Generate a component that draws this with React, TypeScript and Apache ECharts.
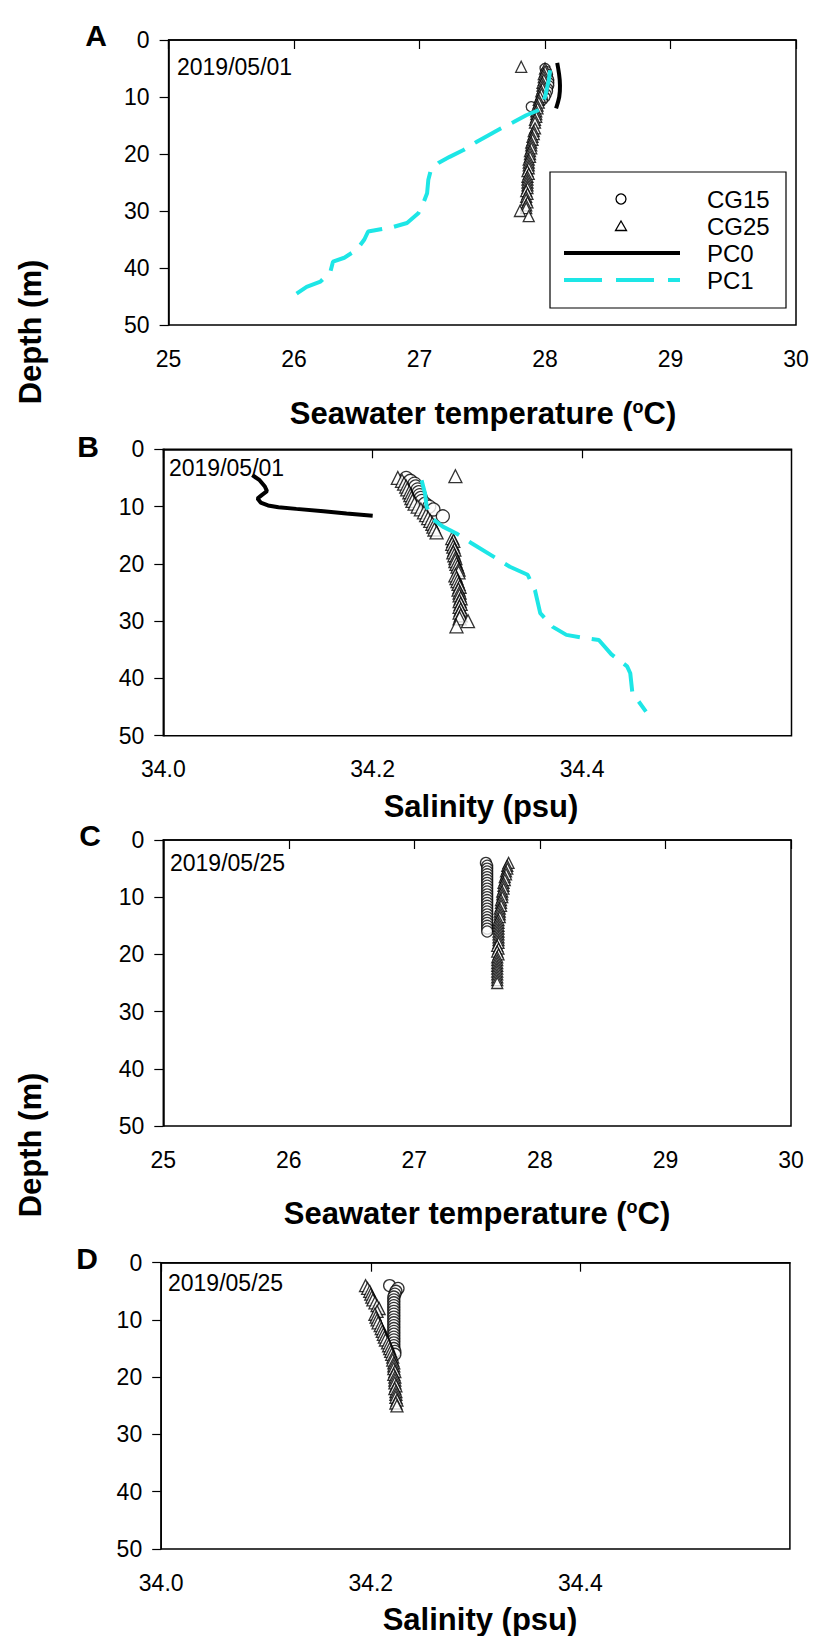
import React, { useEffect, useRef } from "react";
import * as echarts from "echarts";

// ---------- DATA ----------
// 2019/05/01 — CG15 (circles)
const cg15Depth0501 = [5.0, 5.5, 6.0, 6.5, 7.0, 7.5, 8.0, 8.5, 9.0, 9.5, 10.0, 10.5, 11.7];
const cg15Temp0501 = [28.00, 28.01, 28.02, 28.02, 28.03, 28.03, 28.03, 28.02, 28.02, 28.01, 28.00, 27.98, 27.89];
const cg15Sal0501 = [34.232, 34.236, 34.240, 34.241, 34.243, 34.244, 34.245, 34.246, 34.247, 34.250, 34.254, 34.258, 34.267];

// 2019/05/01 — CG25 (triangles)
const cg25Depth0501 = [4.7, 5.0, 5.5, 6.0, 6.5, 7.0, 7.5, 8.0, 8.5, 9.0, 9.5, 10.0, 10.5, 11.0, 11.5, 12.0, 12.5, 13.0, 13.5, 14.0, 14.5, 15.5, 16.0, 16.5, 17.0, 17.5, 18.0, 18.5, 19.0, 19.5, 20.0, 20.5, 21.0, 21.5, 22.0, 22.5, 23.0, 23.5, 24.0, 24.5, 25.0, 25.5, 26.0, 26.5, 27.0, 27.5, 28.0, 28.5, 29.0, 29.5, 30.0, 30.9];
const cg25Temp0501 = [27.81, 28.00, 28.00, 27.99, 27.99, 27.99, 27.98, 27.98, 27.98, 27.97, 27.97, 27.96, 27.95, 27.95, 27.94, 27.94, 27.93, 27.93, 27.93, 27.92, 27.92, 27.92, 27.91, 27.91, 27.90, 27.90, 27.89, 27.89, 27.89, 27.88, 27.88, 27.88, 27.87, 27.87, 27.87, 27.87, 27.86, 27.87, 27.86, 27.86, 27.86, 27.86, 27.86, 27.85, 27.86, 27.85, 27.85, 27.86, 27.85, 27.85, 27.80, 27.87];
const cg25Sal0501 = [34.279, 34.224, 34.228, 34.230, 34.232, 34.233, 34.235, 34.236, 34.237, 34.238, 34.240, 34.243, 34.246, 34.249, 34.251, 34.253, 34.255, 34.257, 34.258, 34.259, 34.261, 34.276, 34.277, 34.276, 34.277, 34.278, 34.277, 34.278, 34.279, 34.279, 34.280, 34.281, 34.282, 34.282, 34.279, 34.280, 34.281, 34.282, 34.283, 34.282, 34.283, 34.283, 34.284, 34.283, 34.284, 34.283, 34.284, 34.283, 34.284, 34.283, 34.291, 34.280];

// 2019/05/01 — PC0 (solid black line)
const pc0DepthT0501 = [4.0, 5.0, 6.0, 7.0, 8.0, 9.0, 10.0, 11.0, 12.0];
const pc0Temp0501 = [28.097, 28.105, 28.112, 28.117, 28.119, 28.118, 28.113, 28.102, 28.088];
const pc0DepthS0501 = [4.5, 5.4, 6.5, 7.3, 8.0, 8.6, 9.3, 9.8, 10.1, 10.4, 10.8, 11.2, 11.6];
const pc0Sal0501 = [34.085, 34.092, 34.097, 34.099, 34.094, 34.090, 34.093, 34.100, 34.110, 34.127, 34.153, 34.175, 34.200];

// 2019/05/01 — PC1 (dashed cyan line)
const pc1DepthT0501 = [5.3, 7.0, 9.0, 10.0, 12.2, 13.2, 14.4, 15.5, 16.7, 17.8, 19.3, 20.5, 21.6, 22.8, 24.5, 26.9, 28.6, 30.4, 32.1, 32.8, 33.2, 33.6, 35.0, 36.8, 38.2, 38.9, 40.6, 42.4, 43.3, 44.5];
const pc1Temp0501 = [28.04, 28.03, 28.01, 28.00, 27.96, 27.85, 27.75, 27.65, 27.55, 27.46, 27.35, 27.24, 27.15, 27.09, 27.07, 27.06, 27.03, 26.99, 26.90, 26.79, 26.69, 26.59, 26.56, 26.50, 26.40, 26.31, 26.29, 26.21, 26.10, 26.02];
const pc1DepthS0501 = [5.4, 7.7, 10.0, 12.0, 13.5, 14.7, 16.4, 18.7, 20.5, 21.9, 24.6, 28.6, 31.0, 32.4, 33.0, 33.3, 35.8, 37.9, 39.1, 42.5, 45.8];
const pc1Sal0501 = [34.2467, 34.250, 34.2515, 34.256, 34.267, 34.280, 34.2945, 34.315, 34.331, 34.348, 34.355, 34.360, 34.372, 34.385, 34.404, 34.416, 34.428, 34.443, 34.446, 34.448, 34.461];

// 2019/05/25 — CG15 (circles)
const cg15Depth0525 = [4.0, 4.5, 5.0, 5.5, 6.0, 6.5, 7.0, 7.5, 8.0, 8.5, 9.0, 9.5, 10.0, 10.5, 11.0, 11.5, 12.0, 12.5, 13.0, 13.5, 14.0, 14.5, 15.0, 15.5, 16.0];
const cg15Temp0525 = [27.57, 27.58, 27.58, 27.58, 27.58, 27.58, 27.58, 27.58, 27.58, 27.58, 27.58, 27.58, 27.58, 27.58, 27.58, 27.58, 27.58, 27.58, 27.58, 27.58, 27.58, 27.58, 27.58, 27.58, 27.58];
const cg15Sal0525 = [34.218, 34.226, 34.224, 34.223, 34.222, 34.222, 34.222, 34.222, 34.222, 34.222, 34.222, 34.222, 34.222, 34.222, 34.222, 34.222, 34.222, 34.222, 34.222, 34.222, 34.222, 34.222, 34.222, 34.223, 34.223];

// 2019/05/25 — CG25 (triangles)
const cg25Depth0525 = [4.0, 4.5, 5.0, 5.5, 6.0, 6.5, 7.0, 7.5, 8.0, 8.5, 9.0, 9.5, 10.0, 10.5, 11.0, 11.5, 12.0, 12.5, 13.0, 13.5, 14.0, 14.5, 15.0, 15.5, 16.0, 16.5, 17.0, 17.5, 18.0, 18.5, 19.0, 19.5, 20.0, 20.5, 21.0, 21.5, 22.0, 22.5, 23.0, 23.5, 24.0, 24.5, 25.0];
const cg25Temp0525 = [27.75, 27.74, 27.74, 27.73, 27.73, 27.72, 27.72, 27.71, 27.71, 27.71, 27.70, 27.70, 27.70, 27.69, 27.69, 27.69, 27.68, 27.68, 27.68, 27.68, 27.67, 27.67, 27.67, 27.67, 27.67, 27.67, 27.67, 27.67, 27.67, 27.66, 27.67, 27.66, 27.67, 27.66, 27.66, 27.66, 27.66, 27.66, 27.66, 27.66, 27.66, 27.66, 27.66];
const cg25Sal0525 = [34.195, 34.197, 34.199, 34.200, 34.201, 34.202, 34.204, 34.206, 34.208, 34.206, 34.204, 34.205, 34.206, 34.207, 34.209, 34.210, 34.211, 34.212, 34.213, 34.214, 34.216, 34.217, 34.218, 34.219, 34.220, 34.221, 34.221, 34.222, 34.222, 34.222, 34.223, 34.222, 34.223, 34.223, 34.223, 34.224, 34.223, 34.224, 34.224, 34.224, 34.225, 34.224, 34.225];

// Axis ticks / labels
const tempTicks = { min: 25, max: 30, interval: 1 };
const salTicks = { min: 34.0, max: 34.6, interval: 0.2 };
const depthTicks = { min: 0, max: 50, interval: 10 };
const panelLetters = ["A", "B", "C", "D"];
const panelDates = ["2019/05/01", "2019/05/01", "2019/05/25", "2019/05/25"];
const legendNames = ["CG15", "CG25", "PC0", "PC1"];

// ---------- STYLE / LAYOUT ----------
const FONT = "'Liberation Sans', Arial, Helvetica, sans-serif";
const CYAN = "#1de6e6";
const grids = [
  { left: 168.6, top: 40, width: 627.4, height: 285 },
  { left: 163.3, top: 449.3, width: 628.2, height: 286.4 },
  { left: 163.3, top: 840, width: 627.7, height: 286 },
  { left: 161.2, top: 1262.7, width: 628.7, height: 286.3 },
];

const zip = (xs: number[], ys: number[]) => xs.map((x, i) => [x, ys[i]]);

export default function App() {
  const ref = useRef<HTMLDivElement>(null);
  useEffect(() => {
    if (!ref.current) return;
    const chart = echarts.init(ref.current, undefined, { renderer: "svg" });

    const axisLine = { show: true, lineStyle: { color: "#000", width: 1.5 } };
    const axisTick = { show: true, inside: false, length: 9, lineStyle: { color: "#000", width: 1.2 } };

    const xAxes = grids.map((_, i) => {
      const isTemp = i === 0 || i === 2;
      const t = isTemp ? tempTicks : salTicks;
      return {
        type: "value",
        gridIndex: i,
        min: t.min,
        max: t.max,
        interval: t.interval,
        axisLine,
        axisTick,
        splitLine: { show: false },
        axisLabel: {
          fontSize: 23,
          color: "#000",
          fontFamily: FONT,
          margin: 22,
          showMaxLabel: isTemp,
          formatter: (v: number) =>
            isTemp ? String(Math.round(v)) : v > 34.55 ? "" : v.toFixed(1),
        },
      };
    });
    const yAxes = grids.map((_, i) => ({
      type: "value",
      gridIndex: i,
      inverse: true,
      min: depthTicks.min,
      max: depthTicks.max,
      interval: depthTicks.interval,
      axisLine,
      axisTick,
      splitLine: { show: false },
      axisLabel: { fontSize: 23, color: "#000", fontFamily: FONT, margin: 19 },
    }));

    const circle = (name: string, data: number[][], i: number, size: number) => ({
      name,
      type: "scatter",
      xAxisIndex: i,
      yAxisIndex: i,
      symbol: "circle",
      symbolSize: size,
      itemStyle: { color: "#fff", borderColor: "#000", borderWidth: 1.3 },
      data,
      z: 3,
    });
    const tri = (name: string, data: number[][], i: number, size: number) => ({
      name,
      type: "scatter",
      xAxisIndex: i,
      yAxisIndex: i,
      symbol: "triangle",
      symbolSize: size,
      itemStyle: { color: "#fff", borderColor: "#000", borderWidth: 1.3 },
      data,
      z: 3,
    });
    const line = (name: string, data: number[][], i: number, color: string, dashed: boolean) => ({
      name,
      type: "line",
      xAxisIndex: i,
      yAxisIndex: i,
      data,
      showSymbol: false,
      symbol: "none",
      lineStyle: { color, width: 4, type: dashed ? [30, 12] : "solid" },
      z: 4,
    });

    const series = [
      circle("CG15", zip(cg15Temp0501, cg15Depth0501), 0, 10),
      tri("CG25", zip(cg25Temp0501, cg25Depth0501), 0, 11),
      line("PC0", zip(pc0Temp0501, pc0DepthT0501), 0, "#000", false),
      line("PC1", zip(pc1Temp0501, pc1DepthT0501), 0, CYAN, true),

      circle("CG15", zip(cg15Sal0501, cg15Depth0501), 1, 13),
      tri("CG25", zip(cg25Sal0501, cg25Depth0501), 1, 13),
      line("PC0", zip(pc0Sal0501, pc0DepthS0501), 1, "#000", false),
      line("PC1", zip(pc1Sal0501, pc1DepthS0501), 1, CYAN, true),

      circle("CG15", zip(cg15Temp0525, cg15Depth0525), 2, 11),
      tri("CG25", zip(cg25Temp0525, cg25Depth0525), 2, 11),

      circle("CG15", zip(cg15Sal0525, cg15Depth0525), 3, 12),
      tri("CG25", zip(cg25Sal0525, cg25Depth0525), 3, 12),
    ];

    const letterPos = [
      [96, 35],
      [88, 446],
      [90, 835],
      [87, 1258],
    ];
    const datePos = [
      [177, 67],
      [169, 468],
      [170, 863],
      [168, 1283],
    ];

    const richTitle = (text: string, x: number, y: number) => ({
      type: "text",
      x,
      y,
      z: 20,
      style: {
        text,
        align: "center",
        verticalAlign: "middle",
        rich: {
          b: { fontSize: 31, fontWeight: "bold", fontFamily: FONT, fill: "#000" },
          s: { fontSize: 18, fontWeight: "bold", fontFamily: FONT, fill: "#000", verticalAlign: "top" },
        },
      },
    });

    const graphics: any[] = [];
    panelLetters.forEach((l, i) => {
      graphics.push({
        type: "text",
        x: letterPos[i][0],
        y: letterPos[i][1],
        z: 20,
        style: { text: l, fontSize: 30, fontWeight: "bold", fontFamily: FONT, fill: "#000", align: "center", verticalAlign: "middle" },
      });
    });
    panelDates.forEach((d, i) => {
      graphics.push({
        type: "text",
        x: datePos[i][0],
        y: datePos[i][1],
        z: 20,
        style: { text: d, fontSize: 23, fontFamily: FONT, fill: "#000", align: "left", verticalAlign: "middle" },
      });
    });
    graphics.push(richTitle("{b|Seawater temperature (}{s|o}{b|C)}", 483, 413));
    graphics.push(richTitle("{b|Salinity (psu)}", 481, 806));
    graphics.push(richTitle("{b|Seawater temperature (}{s|o}{b|C)}", 477, 1213));
    graphics.push(richTitle("{b|Salinity (psu)}", 480, 1619));
    [332, 1145].forEach((y) => {
      graphics.push({
        type: "text",
        x: 30,
        y,
        rotation: Math.PI / 2,
        z: 20,
        style: { text: "Depth (m)", fontSize: 31, fontWeight: "bold", fontFamily: FONT, fill: "#000", align: "center", verticalAlign: "middle" },
      });
    });

    // Legend (panel A)
    graphics.push({
      type: "rect",
      z: 30,
      shape: { x: 550, y: 172, width: 236, height: 136 },
      style: { fill: "#fff", stroke: "#000", lineWidth: 1.2 },
    });
    graphics.push({
      type: "circle",
      z: 31,
      shape: { cx: 621, cy: 199, r: 5 },
      style: { fill: "#fff", stroke: "#000", lineWidth: 1.3 },
    });
    graphics.push({
      type: "polygon",
      z: 31,
      shape: { points: [[615.5, 230.5], [626.5, 230.5], [621, 221]] },
      style: { fill: "#fff", stroke: "#000", lineWidth: 1.3 },
    });
    graphics.push({
      type: "line",
      z: 31,
      shape: { x1: 564, y1: 253, x2: 680, y2: 253 },
      style: { stroke: "#000", lineWidth: 4 },
    });
    graphics.push({
      type: "line",
      z: 31,
      shape: { x1: 564, y1: 280, x2: 680, y2: 280 },
      style: { stroke: CYAN, lineWidth: 4, lineDash: [38, 14] },
    });
    legendNames.forEach((n, i) => {
      graphics.push({
        type: "text",
        z: 31,
        x: 707,
        y: 199 + i * 27,
        style: { text: n, fontSize: 24, fontFamily: FONT, fill: "#000", align: "left", verticalAlign: "middle" },
      });
    });

    chart.setOption({
      animation: false,
      backgroundColor: "#fff",
      textStyle: { fontFamily: FONT },
      grid: grids.map((g) => ({ ...g, show: true, borderColor: "#000", borderWidth: 1.5, backgroundColor: "transparent", containLabel: false })),
      xAxis: xAxes,
      yAxis: yAxes,
      series,
      graphic: { elements: graphics },
    });

    return () => chart.dispose();
  }, []);

  return (
    <div
      ref={ref}
      style={{ position: "absolute", left: 0, top: 0, width: 834, height: 1636, background: "#fff" }}
    />
  );
}
